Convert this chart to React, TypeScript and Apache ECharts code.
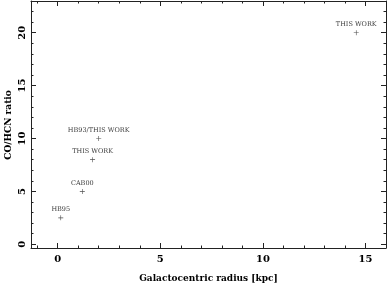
import React, { useEffect, useRef } from "react";
import * as echarts from "echarts";

const radius = [0.15, 1.2, 1.7, 2.0, 14.55];
const ratio = [2.5, 5, 8, 10, 20];
const refs = ["HB95", "CAB00", "THIS WORK", "HB93/THIS WORK", "THIS WORK"];
const xMajor = [0, 5, 10, 15];
const xMinor = [-1, 1, 2, 3, 4, 6, 7, 8, 9, 11, 12, 13, 14, 16];
const yMajor = [0, 5, 10, 15, 20];
const yMinor = [1, 2, 3, 4, 6, 7, 8, 9, 11, 12, 13, 14, 16, 17, 18, 19, 21, 22, 23];
const xTitle = "Galactocentric radius [kpc]";
const yTitle = "CO/HCN ratio";

const X_MIN = -1.3, X_MAX = 16;
const Y_MIN = -0.35, Y_MAX = 23;
const FONT = "DejaVu Serif";
const PLUS = "path://M-0.12,-1H0.12V-0.12H1V0.12H0.12V1H-0.12V0.12H-1V-0.12H-0.12Z";

export default function App() {
  const ref = useRef<HTMLDivElement>(null);
  useEffect(() => {
    const chart = echarts.init(ref.current!, null, { renderer: "svg" });
    const lineStyle = { color: "#222", width: 1 };
    const mkX = (pos: string, vals: number[], len: number, labels: boolean, line: boolean, extra: any = {}) => ({
      type: "value", position: pos, min: X_MIN, max: X_MAX,
      axisLine: { show: line, onZero: false, lineStyle },
      axisTick: { show: true, inside: true, length: len, customValues: vals, lineStyle },
      axisLabel: labels
        ? { show: true, customValues: xMajor, margin: 5, color: "#000", fontFamily: FONT, fontWeight: "bold", fontSize: 10 }
        : { show: false },
      splitLine: { show: false },
      ...extra,
    });
    const mkY = (pos: string, vals: number[], len: number, labels: boolean, line: boolean, extra: any = {}) => ({
      type: "value", position: pos, min: Y_MIN, max: Y_MAX,
      axisLine: { show: line, onZero: false, lineStyle },
      axisTick: { show: true, inside: true, length: len, customValues: vals, lineStyle },
      axisLabel: labels
        ? { show: true, customValues: yMajor, rotate: 90, margin: 5, color: "#000", fontFamily: FONT, fontWeight: "bold", fontSize: 10 }
        : { show: false },
      splitLine: { show: false },
      ...extra,
    });
    chart.setOption({
      animation: false,
      grid: { left: 31, right: 2, top: 1, bottom: 38, outerBoundsMode: "none", containLabel: false },
      graphic: [
        {
          type: "text",
          x: 8,
          y: 125,
          rotation: Math.PI / 2,
          style: {
            text: yTitle,
            fill: "#000",
            fontFamily: FONT,
            fontWeight: "bold",
            fontSize: 9,
            align: "center",
            verticalAlign: "middle",
          },
        },
      ],
      xAxis: [
        mkX("bottom", xMajor, 5, true, true, {
          name: xTitle, nameLocation: "middle", nameGap: 25,
          nameTextStyle: { color: "#000", fontFamily: FONT, fontWeight: "bold", fontSize: 9 },
        }),
        mkX("bottom", xMinor, 2.5, false, false),
        mkX("top", xMajor, 5, false, true),
        mkX("top", xMinor, 2.5, false, false),
      ],
      yAxis: [
        mkY("left", yMajor, 5, true, true),
        mkY("left", yMinor, 2.5, false, false),
        mkY("right", yMajor, 5, false, true),
        mkY("right", yMinor, 2.5, false, false),
      ],
      series: [
        {
          type: "scatter",
          xAxisIndex: 0,
          yAxisIndex: 0,
          symbol: PLUS,
          symbolSize: 5,
          itemStyle: { color: "#222" },
          data: radius.map((x, i) => ({ value: [x, ratio[i]], name: refs[i] })),
          label: {
            show: true,
            position: "top",
            distance: 2.5,
            formatter: (p: any) => refs[p.dataIndex],
            color: "#000",
            fontFamily: FONT,
            fontSize: 6.5,
          },
        },
      ],
    });
    return () => chart.dispose();
  }, []);
  return <div ref={ref} style={{ position: "fixed", left: 0, top: 0, width: 388, height: 286 }} />;
}
